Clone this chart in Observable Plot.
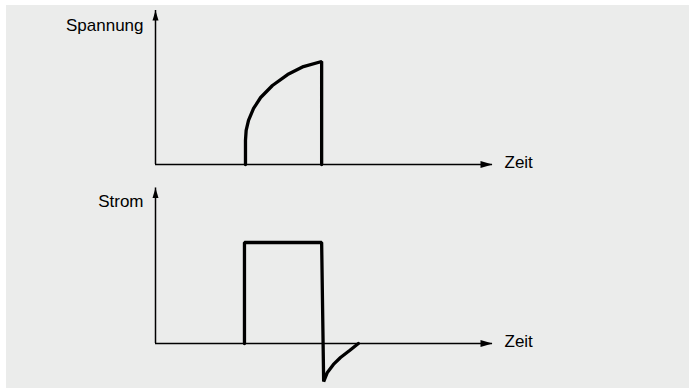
<!DOCTYPE html>
<html>
<head>
<meta charset="utf-8">
<script src="https://cdn.jsdelivr.net/npm/d3@7"></script>
<script src="https://cdn.jsdelivr.net/npm/@observablehq/plot@0.6"></script>
<style>
  html, body { margin: 0; padding: 0; background: #ffffff; }
  #wrap { position: relative; width: 691px; height: 389px; }
  #bg { position: absolute; left: 6px; top: 5px; width: 683px; height: 383px; background: #ebeceb; }
  #chart { position: absolute; left: 0; top: 0; }
</style>
</head>
<body>
<div id="wrap"><div id="bg"></div><div id="chart"></div></div>
<script>
// Panels (facet categories = y-axis titles)
const panels = ["Spannung", "Strom"];
const timeLabel = "Zeit";

// Voltage (Spannung) trace: time and value
const voltageTime  = [2.67, 2.67, 2.69, 2.76, 2.91, 3.12, 3.47, 3.92, 4.39, 4.93, 4.93];
const voltageValue = [0,    1.56, 2.21, 2.86, 3.64, 4.35, 5.13, 5.84, 6.36, 6.69, 0];

// Current (Strom) trace: time and value
const currentTime  = [2.64, 2.64, 4.93, 4.99, 5.10, 5.28, 5.49, 5.76, 6.02];
const currentValue = [0,    6.56, 6.56, -2.47, -1.88, -1.36, -0.91, -0.45, 0];

// Axis extents per panel
const axisTop = [10.0, 10.1];
const axisEnd = 10;
const titleLevel = [9.0, 9.2];
const zeitLevel = [0.1, 0.1];

const voltageRows = voltageTime.map((t, i) => ({panel: panels[0], t, v: voltageValue[i]}));
const currentRows = currentTime.map((t, i) => ({panel: panels[1], t, v: currentValue[i]}));
const axisRows = panels.map((p, i) => ({panel: p, x0: 0, y0: 0, top: axisTop[i], end: axisEnd, ty: titleLevel[i], zy: zeitLevel[i], zeit: timeLabel}));

const upHead = {draw(ctx) { ctx.moveTo(0, 0); ctx.lineTo(-3, 10); ctx.lineTo(3, 10); ctx.closePath(); }};
const rightHead = {draw(ctx) { ctx.moveTo(0, 0); ctx.lineTo(-12, -3.5); ctx.lineTo(-12, 3.5); ctx.closePath(); }};

const font = "'Liberation Sans', Arial, Helvetica, sans-serif";

const chart = Plot.plot({
  width: 691,
  height: 389,
  marginLeft: 155,
  marginRight: 199,
  marginTop: 10,
  marginBottom: 25,
  style: {background: "transparent", fontFamily: font, overflow: "visible"},
  x: {domain: [0, 10], axis: null},
  y: {domain: [-21 / 15.4, 10], axis: null},
  fy: {domain: panels, axis: null, paddingInner: 4 / 179, paddingOuter: 0},
  marks: [
    Plot.ruleX(axisRows, {x: "x0", y1: "y0", y2: "top", fy: "panel", stroke: "#000", strokeWidth: 1.5}),
    Plot.ruleY(axisRows, {y: "y0", x1: "x0", x2: "end", fy: "panel", stroke: "#000", strokeWidth: 1.5}),
    Plot.dot(axisRows, {x: "x0", y: "top", fy: "panel", symbol: upHead, fill: "#000", stroke: "none"}),
    Plot.dot(axisRows, {x: "end", y: "y0", fy: "panel", symbol: rightHead, fill: "#000", stroke: "none"}),
    Plot.line(voltageRows, {x: "t", y: "v", fy: "panel", stroke: "#000", strokeWidth: 3.3, strokeLinejoin: "miter"}),
    Plot.line(currentRows, {x: "t", y: "v", fy: "panel", stroke: "#000", strokeWidth: 3.3, strokeLinejoin: "miter"}),
    Plot.text(axisRows, {x: "x0", y: "ty", text: "panel", fy: "panel", textAnchor: "end", dx: -12, fontSize: 17, fill: "#000"}),
    Plot.text(axisRows, {x: "end", y: "zy", text: "zeit", fy: "panel", textAnchor: "start", dx: 12, fontSize: 17, fill: "#000"})
  ]
});
document.getElementById("chart").appendChild(chart);
</script>
</body>
</html>
